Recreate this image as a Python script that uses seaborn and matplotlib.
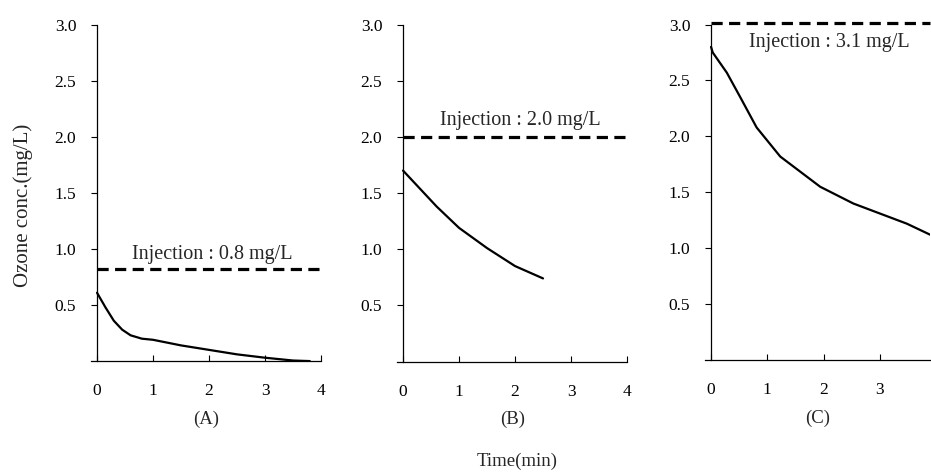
import matplotlib
matplotlib.use("Agg")
import matplotlib.pyplot as plt
import seaborn as sns
import pandas as pd

# residual ozone (mg/L) vs time (min) for three injection doses
time_a = [0, 0.15, 0.3, 0.45, 0.6, 0.8, 1.0, 1.5, 2.0, 2.5, 3.0, 3.5, 3.8]
ozone_a = [0.61, 0.48, 0.36, 0.28, 0.23, 0.20, 0.19, 0.14, 0.10, 0.06, 0.03, 0.005, 0.0]
time_b = [0, 0.3, 0.6, 1.0, 1.5, 2.0, 2.5]
ozone_b = [1.70, 1.54, 1.38, 1.19, 1.01, 0.85, 0.74]
time_c = [0, 0.03, 0.28, 0.52, 0.81, 1.23, 1.94, 2.53, 3.48, 3.9]
ozone_c = [2.80, 2.75, 2.57, 2.35, 2.08, 1.82, 1.55, 1.40, 1.22, 1.12]

injection = [0.82, 2.0, 3.01]
injection_text = ["Injection : 0.8 mg/L", "Injection : 2.0 mg/L", "Injection : 3.1 mg/L"]
panel_names = ["(A)", "(B)", "(C)"]
x_max = [4, 4, 3.9]
x_ticks = [[0, 1, 2, 3, 4], [0, 1, 2, 3, 4], [0, 1, 2, 3]]
y_ticks = [0.5, 1.0, 1.5, 2.0, 2.5, 3.0]

sns.set_style("ticks")
plt.rcParams["font.family"] = ["Liberation Serif", "DejaVu Serif"]

fig = plt.figure(figsize=(9.31, 4.72), dpi=100)

# axes rectangles [left, bottom, width, height] in figure fractions
rects = [
    [0.0982, 0.235, 0.2466, 0.712],
    [0.4269, 0.234, 0.2466, 0.714],
    [0.7577, 0.237, 0.2417, 0.711],
]
text_pos = [(2.05, 0.95), (2.09, 2.15), (2.11, 2.84)]

curves = [(time_a, ozone_a), (time_b, ozone_b), (time_c, ozone_c)]

for i, (t, o) in enumerate(curves):
    ax = fig.add_axes(rects[i])
    df = pd.DataFrame({"time": t, "ozone": o})
    sns.lineplot(data=df, x="time", y="ozone", ax=ax, color="black", lw=1.6)
    ax.hlines(injection[i], 0, x_max[i], colors="black", lw=2.3,
              linestyles=(0, (3.5, 2)), clip_on=False)
    ax.text(text_pos[i][0], text_pos[i][1], injection_text[i], ha="center",
            va="center", fontsize=14.5)

    ax.set_xlim(-0.1, x_max[i])
    ax.set_ylim(0, 3.0)
    ax.spines["left"].set_position(("data", 0))
    ax.spines["top"].set_visible(False)
    ax.spines["right"].set_visible(False)
    for s in ["left", "bottom"]:
        ax.spines[s].set_linewidth(0.9)
        ax.spines[s].set_color("black")

    ax.set_xticks(x_ticks[i])
    ax.set_yticks(y_ticks)
    ax.set_yticklabels([f"{v:.1f}" for v in y_ticks])
    ax.tick_params(axis="x", direction="in", length=4, width=0.8, pad=16,
                   labelsize=12.5, colors="black")
    ax.tick_params(axis="y", direction="out", length=4, width=0.8, pad=11,
                   labelsize=12.5, colors="black")
    ax.set_xlabel(panel_names[i], fontsize=13.5, labelpad=8)
    ax.set_ylabel("")

fig.text(0.025, 0.565, "Ozone conc.(mg/L)", rotation=90, ha="center",
         va="center", fontsize=15)
fig.text(0.555, 0.022, "Time(min)", ha="center", va="center", fontsize=13.5)

fig.savefig("out.png", dpi=100)
